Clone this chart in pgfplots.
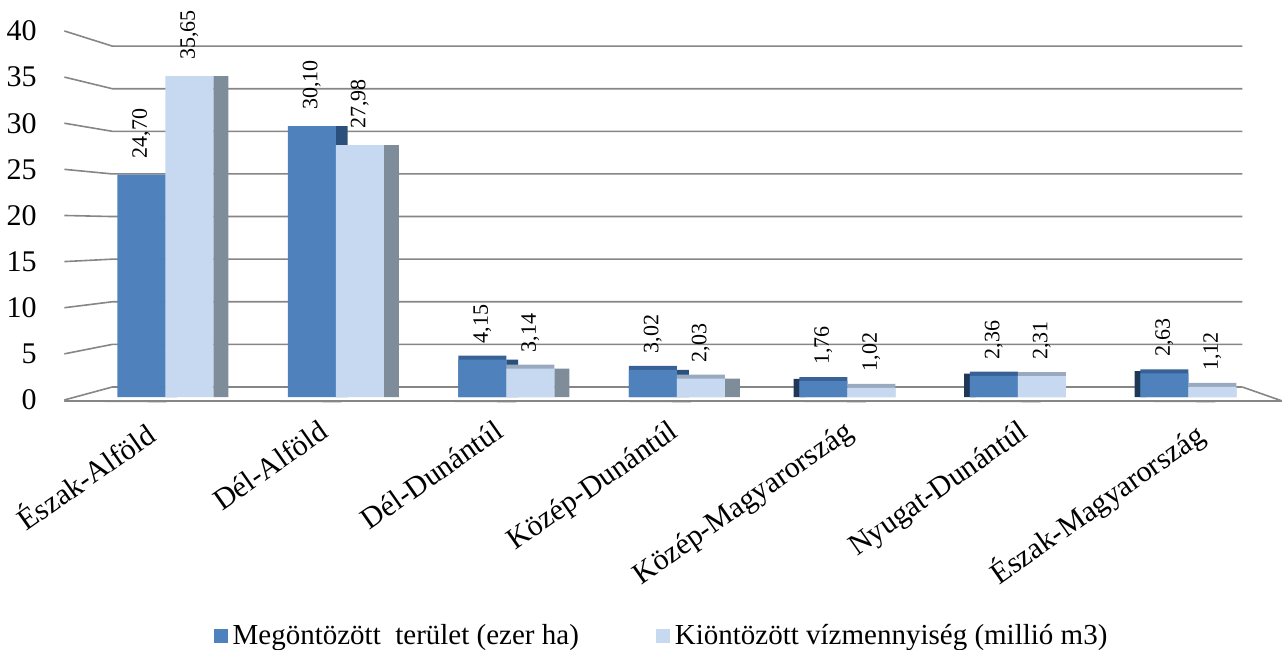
\documentclass[border=0pt]{standalone}
\usepackage{fontspec}
\setmainfont{Liberation Serif}
\usepackage{pgfplots}
\usepackage{pgfplotstable}
\pgfplotsset{compat=1.18}
\definecolor{darkbar}{RGB}{79,129,189}
\definecolor{lightbar}{RGB}{198,217,241}
\definecolor{lightside}{RGB}{127,140,154}
\definecolor{lighttop}{RGB}{152,169,192}
\definecolor{darktop}{RGB}{56,98,150}
\definecolor{darkside}{RGB}{44,80,124}
\definecolor{darkleft}{RGB}{31,56,88}
\definecolor{gridc}{RGB}{134,134,134}
\pgfplotstableread{
x a b
0 24.70 35.65
1 30.10 27.98
2 4.15 3.14
3 3.02 2.03
4 1.76 1.02
5 2.36 2.31
6 2.63 1.12
}\datatable
\pgfplotsset{
  vallabel/.style={
    nodes near coords={\rmfamily\pgfmathprintnumber[assume math mode=true,fixed,fixed zerofill,precision=2,use comma]{\pgfplotspointmeta}},
    every node near coord/.append style={rotate=90, anchor=west, inner sep=0pt, xshift=8bp, font=\fontsize{11bp}{13bp}\selectfont, text=black}}
}
\begin{document}
\begin{tikzpicture}
\begin{axis}[
  name=ax,
  at={(0,0)}, anchor=south west,
  scale only axis,
  width=610.4bp, height=187.2bp,
  xmin=-0.6, xmax=6.56,
  ymin=-0.6, ymax=41,
  clip=false,
  axis line style={draw=none},
  major tick length=0pt,
  ybar,
  xtick={-0.047,0.978,2.004,3.029,4.054,5.079,6.104},
  xticklabels={Észak-Alföld,Dél-Alföld,Dél-Dunántúl,Közép-Dunántúl,Közép-Magyarország,Nyugat-Dunántúl,Észak-Magyarország},
  xticklabel style={xshift=-7bp, yshift=-8bp, rotate=35, anchor=north east, inner sep=0pt, font=\fontsize{15bp}{18bp}\selectfont},
  ytick={-0.33,4.795,9.92,15.045,20.17,25.295,30.42,35.545,40.67},
  yticklabels={0,5,10,15,20,25,30,35,40},
  yticklabel style={anchor=east, inner sep=0pt, xshift=-13bp, font=\fontsize{15bp}{18bp}\selectfont},
  legend style={at={(0.4915,-0.624)}, anchor=center, draw=none, fill=none,
    legend columns=2, font=\fontsize{14.5bp}{17bp}\selectfont,
    /tikz/every even column/.append style={column sep=36bp},
    nodes={inner xsep=2.5bp}},
  legend image code/.code={\fill[#1,draw=none] (0bp,-3.5bp) rectangle (7bp,3.5bp);},
]
% back wall gridlines and connectors
\pgfplotsinvokeforeach{0,5,10,15,20,25,30,35,40}{
  \draw[gridc, line width=0.8bp] (axis cs:-0.592,{#1*1.025-0.33}) -- (axis cs:-0.311,{1.11+0.947*#1}) -- (axis cs:6.317,{1.11+0.947*#1});
}
% floor
\draw[gridc, line width=0.8bp] (axis cs:-0.592,-0.44) -- (axis cs:6.55,-0.44) -- (axis cs:6.317,1.11);
\pgfplotsinvokeforeach{0,1,2,3,4,5,6}{
  \draw[gridc, line width=0.8bp] (axis cs:{-0.592+1.0252*#1},-0.44) -- ++(0,-3bp);
}
% dark bars: right side (left groups), left side (right groups), top caps (small bars)
\addplot[forget plot, fill=darkside, draw=none, bar width=0.07, bar shift=0.035,
  skip coords between index={4}{7}] table[x=x, y=a] {\datatable};
\addplot[forget plot, fill=darkleft, draw=none, bar width=0.07, bar shift=-0.28,
  skip coords between index={0}{4}] table[x=x, y expr=\thisrow{a}+0.25] {\datatable};
\addplot[forget plot, fill=darktop, draw=none, bar width=0.2815, bar shift=-0.141,
  skip coords between index={0}{2}] table[x=x, y expr=\thisrow{a}+0.45] {\datatable};
\addplot[fill=darkbar, draw=none, bar width=0.2815, bar shift=-0.141, vallabel]
  table[x=x, y=a] {\datatable};
\addlegendentry{Megöntözött\ \ terület (ezer ha)}
% light bars: right side, top caps
\addplot[forget plot, fill=lightside, draw=none, bar width=0.088, bar shift=0.3255,
  skip coords between index={4}{7}] table[x=x, y=b] {\datatable};
\addplot[forget plot, fill=lighttop, draw=none, bar width=0.2815, bar shift=0.141,
  skip coords between index={0}{2}] table[x=x, y expr=\thisrow{b}+0.45] {\datatable};
\addplot[fill=lightbar, draw=none, bar width=0.2815, bar shift=0.141, vallabel]
  table[x=x, y=b] {\datatable};
\addlegendentry{Kiöntözött vízmennyiség (millió m3)}
\end{axis}
\pgfresetboundingbox
\path (ax.south west) ++(-31.5bp,-123.8bp) coordinate (bl);
\path (ax.south west) ++(609.5bp,201.2bp) coordinate (tr);
\path[use as bounding box] (bl) rectangle (tr);
\end{tikzpicture}
\end{document}
